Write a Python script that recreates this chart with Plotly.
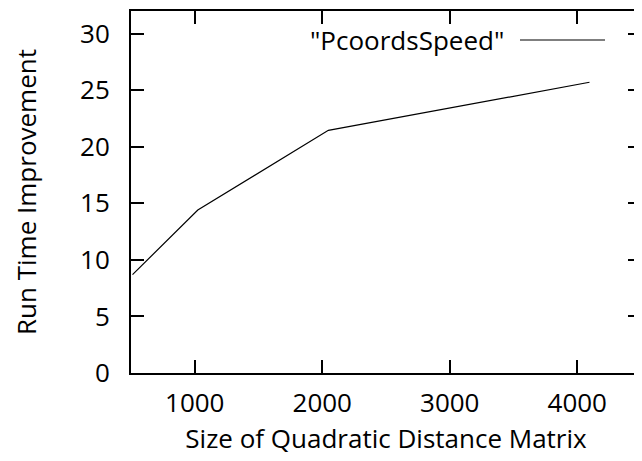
import plotly.graph_objects as go

matrix_size = [512, 1024, 2048, 4096]
speedup = [8.7, 14.4, 21.45, 25.7]
series_name = '"PcoordsSpeed"'
x_ticks = [1000, 2000, 3000, 4000]
y_ticks = [0, 5, 10, 15, 20, 25, 30]

FONT = "Open Sans"
FS = 26

# page body has an 8px margin; plot area wanted at x 131..641, y 11..373
L, T, R, B = 123, 3, 1, 88
W, H = 634, 453
PW = W - L - R
PH = H - T - B

fig = go.Figure()
fig.add_trace(go.Scatter(
    x=matrix_size, y=speedup, mode="lines",
    line=dict(color="black", width=1.2),
    name=series_name, showlegend=False,
))

axis_common = dict(
    showgrid=False, zeroline=False, automargin=False,
    showline=True, linecolor="black", linewidth=2,
    mirror="ticks", ticks="inside", ticklen=13, tickwidth=2, tickcolor="black",
    tickfont=dict(family=FONT, size=FS, color="black"),
)

fig.update_layout(
    width=W, height=H,
    margin=dict(l=L, r=R, t=T, b=B),
    paper_bgcolor="white", plot_bgcolor="white",
    font=dict(family=FONT, size=FS, color="black"),
    xaxis=dict(range=[500, 4500], tickvals=x_ticks, ticklabelstandoff=6,
               title=dict(text="Size of Quadratic Distance Matrix", standoff=10,
                          font=dict(family=FONT, size=FS, color="black")),
               **axis_common),
    yaxis=dict(range=[0, 32], tickvals=y_ticks, ticklabelstandoff=14,
               title=dict(text="Run Time Improvement", standoff=41,
                          font=dict(family=FONT, size=FS, color="black")),
               **axis_common),
    showlegend=False,
)

# key (gnuplot-style: label then line sample), positions relative to plot area
key_y = 1 - 29 / PH
fig.add_annotation(
    xref="paper", yref="paper", x=375 / PW, y=key_y,
    xanchor="right", yanchor="middle", text=series_name, showarrow=False,
    font=dict(family=FONT, size=FS, color="black"),
)
fig.add_shape(
    type="line", xref="paper", yref="paper",
    x0=389 / PW, x1=474 / PW,
    y0=key_y, y1=key_y,
    line=dict(color="black", width=1.2),
)

fig.write_html("out.html")
